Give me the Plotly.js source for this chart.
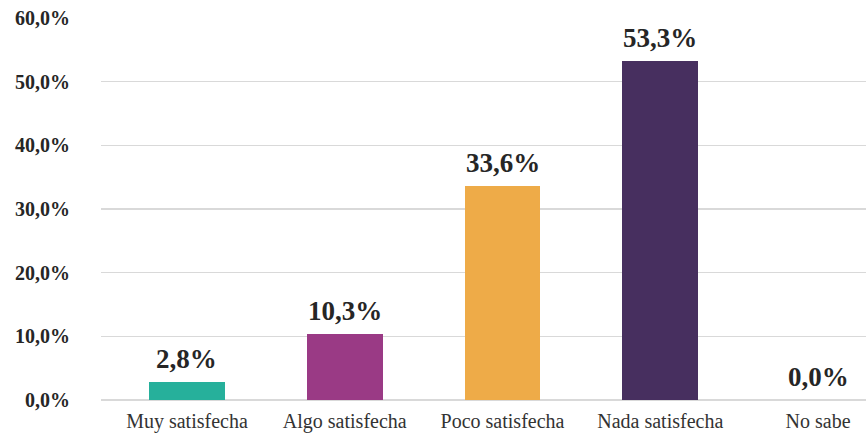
<!DOCTYPE html>
<html>
<head>
<meta charset="utf-8">
<script src="https://cdn.plot.ly/plotly-3.0.1.min.js"></script>
<style>html,body{margin:0;padding:0;background:#fff;}#chart{width:866px;height:436px;}</style>
</head>
<body>
<div id="chart"></div>
<script>
const categories = ["Muy satisfecha", "Algo satisfecha", "Poco satisfecha", "Nada satisfecha", "No sabe"];
const values = [2.8, 10.3, 33.6, 53.3, 0.0];
const barColors = ["#26B09B", "#9A3A85", "#EEAB48", "#472F5F", "#7F7F7F"];
const yTickVals = [0, 10, 20, 30, 40, 50, 60];
const yTickText = ["0,0%", "10,0%", "20,0%", "30,0%", "40,0%", "50,0%", "60,0%"];

const fmt = v => v.toFixed(1).replace('.', ',') + '%';
const serif = 'Liberation Serif, DejaVu Serif, serif';

const trace = {
  type: 'bar',
  x: categories,
  y: values,
  width: 0.48,
  marker: {color: barColors},
  hoverinfo: 'none'
};

const annotations = categories.map((c, i) => ({
  x: c, y: values[i], xref: 'x', yref: 'y',
  text: fmt(values[i]),
  showarrow: false,
  yanchor: 'bottom',
  yshift: 6,
  font: {family: serif, size: 27, color: '#262626', weight: 'bold'}
}));

const layout = {
  width: 866, height: 436,
  margin: {l: 101, r: 0, t: 18, b: 36},
  paper_bgcolor: '#fff', plot_bgcolor: '#fff',
  showlegend: false,
  bargap: 0,
  font: {family: serif},
  xaxis: {
    type: 'category',
    range: [-0.545, 4.304],
    showgrid: false, zeroline: false, showline: false,
    ticks: '',
    tickfont: {family: serif, size: 20, color: '#333333'},
    ticklabelstandoff: 7
  },
  yaxis: {
    range: [0, 60],
    tickvals: yTickVals,
    ticktext: yTickText,
    showgrid: true, gridcolor: '#d9d9d9', gridwidth: 1.5,
    zeroline: true, zerolinecolor: '#d9d9d9', zerolinewidth: 1.5,
    showline: false, ticks: '',
    ticklabelstandoff: 30,
    tickfont: {family: serif, size: 20, color: '#262626', weight: 'bold'}
  },
  annotations: annotations
};

Plotly.newPlot('chart', [trace], layout, {displayModeBar: false, staticPlot: true});
</script>
</body>
</html>
